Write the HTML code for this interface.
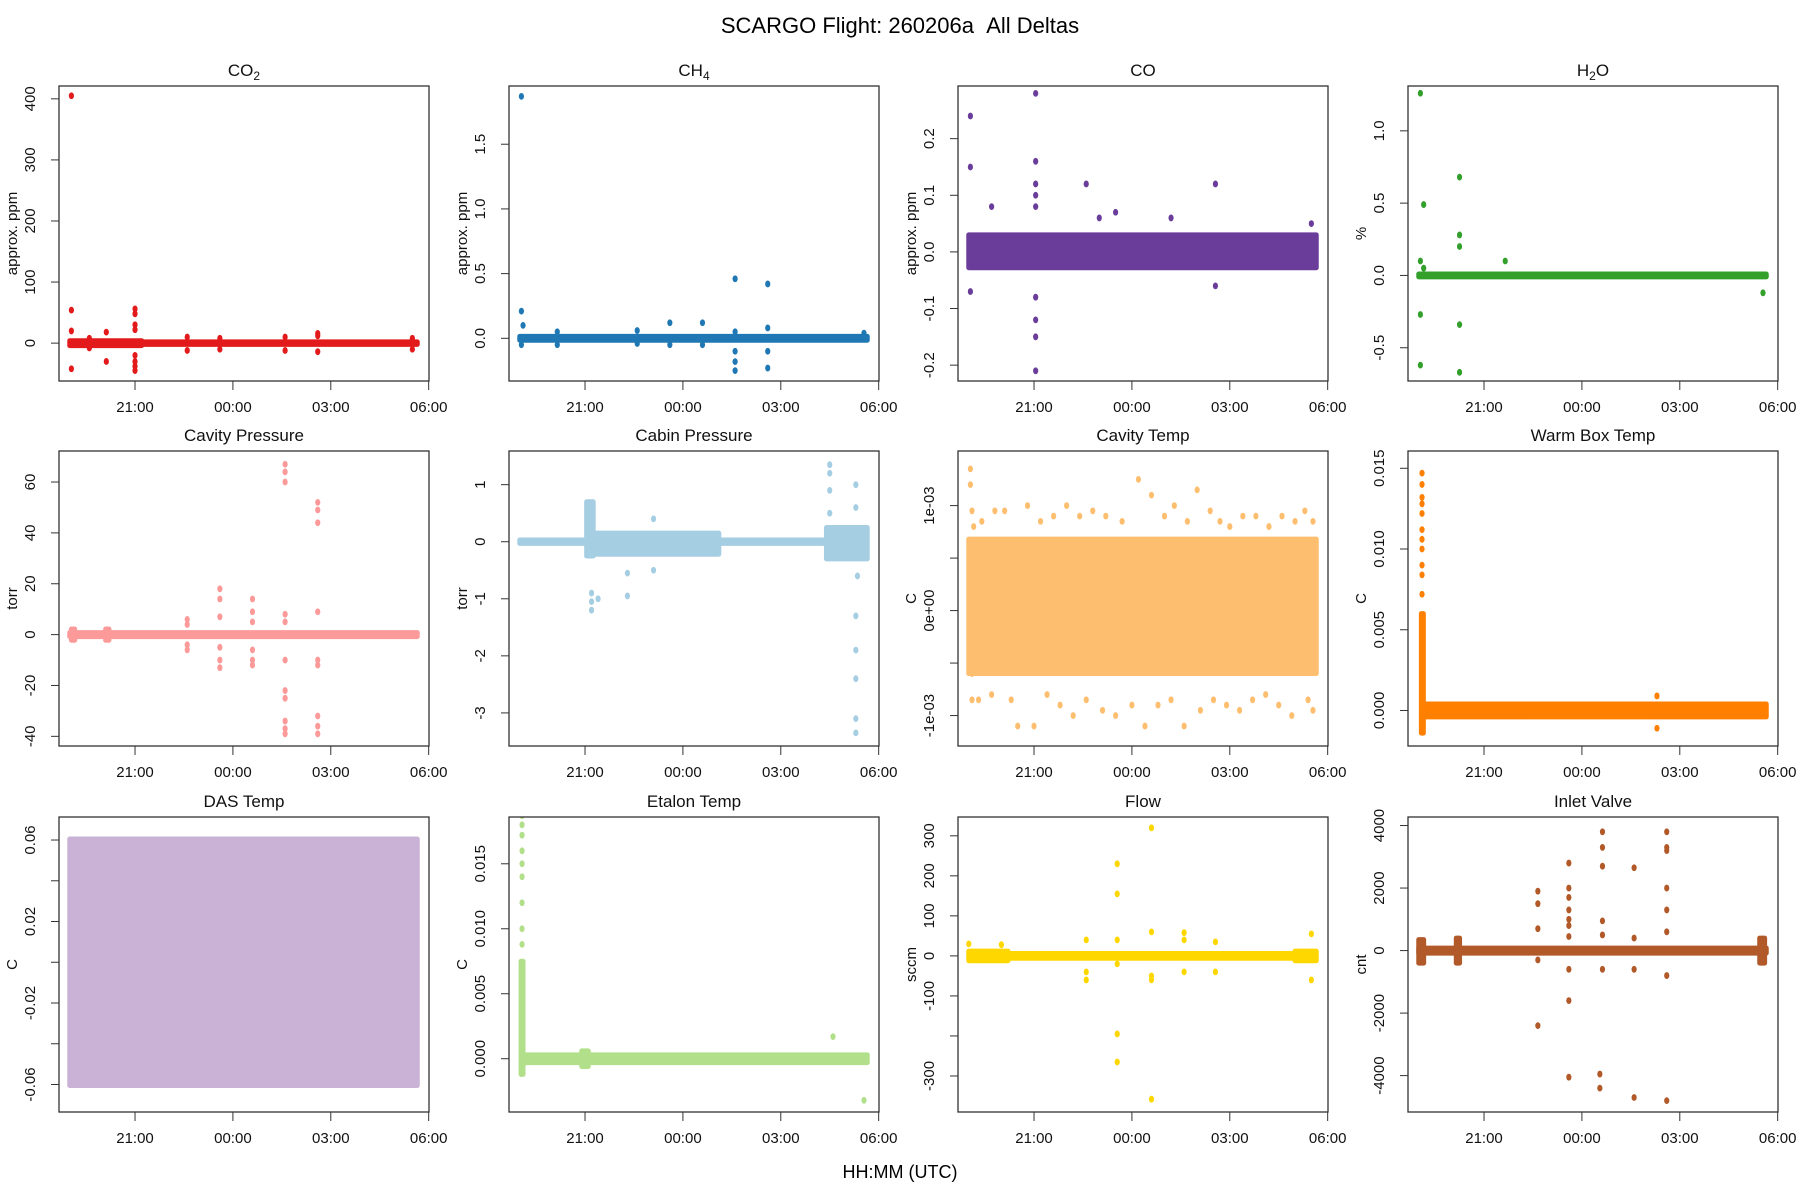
<!DOCTYPE html>
<html><head><meta charset="utf-8"><style>
html,body{margin:0;padding:0;background:#fff}
svg{display:block;font-family:"Liberation Sans",sans-serif}
</style></head><body>
<svg id="fig" width="1800" height="1200" viewBox="0 0 1800 1200" xmlns="http://www.w3.org/2000/svg">
<text x="900" y="33" text-anchor="middle" font-size="22" style="white-space:pre">SCARGO Flight: 260206a&#160;&#160;All Deltas</text>
<text x="900" y="1178" text-anchor="middle" font-size="18">HH:MM (UTC)</text>
</svg>
<script>
// shared x axis (hours relative to 00:00 UTC)
const xTickVals=[-3,0,3,6];
const xTickLabels=["21:00","00:00","03:00","06:00"];
const xDomain=[-5.33,6.01];

// CO2
const co2_bandT0=[-5.0,-2.8];const co2_bandT1=[-2.8,5.65];const co2_bandLo=[-4,-2];const co2_bandHi=[4,2];
const co2_ptT=[-4.95,-4.95,-4.95,-4.95,-4.4,-4.4,-3.88,-3.88,-3.0,-3.0,-3.0,-3.0,-3.0,-3.0,-3.0,-3.0,-1.4,-1.4,-0.4,-0.4,1.6,1.6,2.6,2.6,2.6,5.5,5.5];
const co2_ptV=[405,54,-42,20,8,-8,18,-30,56,48,30,22,-20,-30,-38,-45,10,-12,8,-10,10,-12,16,12,-14,8,-10];
// CH4
const ch4_bandT0=[-5.0];const ch4_bandT1=[5.65];const ch4_bandLo=[-0.015];const ch4_bandHi=[0.015];
const ch4_ptT=[-4.95,-4.95,-4.95,-4.9,-3.85,-3.85,-1.4,-1.4,-0.4,-0.4,0.6,0.6,1.6,1.6,1.6,1.6,1.6,2.6,2.6,2.6,2.6,5.55];
const ch4_ptV=[1.87,0.21,-0.05,0.1,0.05,-0.05,0.06,-0.04,0.12,-0.05,0.12,-0.05,0.46,0.05,-0.1,-0.18,-0.25,0.42,0.08,-0.1,-0.23,0.04];
// CO
const co_bandT0=[-5.0];const co_bandT1=[5.65];const co_bandLo=[-0.028];const co_bandHi=[0.03];
const co_ptT=[-4.95,-4.95,-4.95,-4.3,-2.95,-2.95,-2.95,-2.95,-2.95,-2.95,-2.95,-2.95,-2.95,-1.4,-1.0,-0.5,1.2,2.56,2.56,5.5];
const co_ptV=[0.24,0.15,-0.07,0.08,0.28,0.16,0.12,0.1,0.08,-0.08,-0.12,-0.15,-0.21,0.12,0.06,0.07,0.06,0.12,-0.06,0.05];
// H2O
const h2o_bandT0=[-5.0];const h2o_bandT1=[5.65];const h2o_bandLo=[-0.01];const h2o_bandHi=[0.01];
const h2o_ptT=[-4.95,-4.95,-4.95,-4.95,-4.85,-4.85,-3.75,-3.75,-3.75,-3.75,-3.75,-2.35,5.55];
const h2o_ptV=[1.26,0.1,-0.27,-0.62,0.49,0.05,0.68,0.28,0.2,-0.34,-0.67,0.1,-0.12];
// Cavity Pressure
const cavp_bandT0=[-5.0,-4.95,-3.9];const cavp_bandT1=[5.65,-4.85,-3.8];const cavp_bandLo=[-0.8,-2.2,-2.2];const cavp_bandHi=[0.8,2.2,2.2];
const cavp_ptT=[-1.4,-1.4,-1.4,-1.4,-0.4,-0.4,-0.4,-0.4,-0.4,-0.4,0.6,0.6,0.6,0.6,0.6,0.6,1.6,1.6,1.6,1.6,1.6,1.6,1.6,1.6,1.6,1.6,1.6,2.6,2.6,2.6,2.6,2.6,2.6,2.6,2.6,2.6];
const cavp_ptV=[6,4,-4,-6,18,14,7,-5,-10,-13,14,9,5,-6,-10,-12,67,64,60,8,5,-10,-22,-25,-34,-37,-39,52,49,44,9,-10,-12,-32,-36,-39];
// Cabin Pressure
const cabp_bandT0=[-5.0,-2.95,-2.75,1.1,4.4];const cabp_bandT1=[-2.95,-2.75,1.1,4.4,5.65];
const cabp_bandLo=[-0.03,-0.25,-0.22,-0.03,-0.3];const cabp_bandHi=[0.03,0.7,0.15,0.03,0.25];
const cabp_ptT=[-2.8,-2.8,-2.8,-2.6,-1.7,-1.7,-0.9,-0.9,4.5,4.5,4.5,4.5,5.3,5.3,5.3,5.3,5.3,5.3,5.3,5.35];
const cabp_ptV=[-0.9,-1.05,-1.2,-1.0,-0.95,-0.55,0.4,-0.5,1.35,1.2,0.9,0.5,1.0,0.6,-1.3,-1.9,-2.4,-3.1,-3.35,-0.6];
// Cavity Temp
const cavt_bandT0=[-5.0];const cavt_bandT1=[5.65];const cavt_bandLo=[-0.6e-3];const cavt_bandHi=[0.68e-3];
const cavt_ptT=[-4.95,-4.95,-4.9,-4.85,-4.9,-4.9,-4.6,-4.2,-3.9,-3.5,-3.2,-2.8,-2.4,-2.0,-1.6,-1.2,-0.8,-0.3,0.2,0.6,1.0,1.3,1.7,2.0,2.4,2.7,3.0,3.4,3.8,4.2,4.6,5.0,5.3,5.55,-4.7,-4.3,-3.7,-3.0,-2.6,-2.2,-1.8,-1.4,-0.9,-0.5,0.0,0.4,0.8,1.2,1.6,2.1,2.5,2.9,3.3,3.7,4.1,4.5,4.9,5.4,5.55];
const cavt_ptV=[1.35e-3,1.2e-3,0.95e-3,0.8e-3,-0.85e-3,-0.6e-3,0.85e-3,0.95e-3,0.95e-3,-1.1e-3,1.0e-3,0.85e-3,0.9e-3,1.0e-3,0.9e-3,0.95e-3,0.9e-3,0.85e-3,1.25e-3,1.1e-3,0.9e-3,1.0e-3,0.85e-3,1.15e-3,0.95e-3,0.85e-3,0.8e-3,0.9e-3,0.9e-3,0.8e-3,0.9e-3,0.85e-3,0.95e-3,0.85e-3,-0.85e-3,-0.8e-3,-0.85e-3,-1.1e-3,-0.8e-3,-0.9e-3,-1.0e-3,-0.85e-3,-0.95e-3,-1.0e-3,-0.9e-3,-1.1e-3,-0.9e-3,-0.85e-3,-1.1e-3,-0.95e-3,-0.85e-3,-0.9e-3,-0.95e-3,-0.85e-3,-0.8e-3,-0.9e-3,-1.0e-3,-0.85e-3,-0.95e-3];
// Warm Box Temp
const wbt_bandT0=[-4.92,-4.85];const wbt_bandT1=[-4.86,5.65];const wbt_bandLo=[-0.0014,-0.0004];const wbt_bandHi=[0.006,0.0004];
const wbt_ptT=[-4.9,-4.9,-4.9,-4.9,-4.9,-4.9,-4.9,-4.9,-4.9,-4.9,-4.9,2.3,2.3];
const wbt_ptV=[0.0147,0.0140,0.0132,0.0128,0.0122,0.0112,0.0106,0.0100,0.0090,0.0084,0.0072,0.0009,-0.0011];
// DAS Temp
const das_bandT0=[-5.0];const das_bandT1=[5.65];const das_bandLo=[-0.0605];const das_bandHi=[0.0605];
const das_ptT=[];const das_ptV=[];
// Etalon Temp
const etl_bandT0=[-4.96,-4.9,-3.1];const etl_bandT1=[-4.9,5.65,-2.9];const etl_bandLo=[-0.0012,-0.0003,-0.0006];const etl_bandHi=[0.0075,0.0003,0.0006];
const etl_ptT=[-4.93,-4.93,-4.93,-4.93,-4.93,-4.93,-4.93,-4.93,-4.93,4.6,5.55];
const etl_ptV=[0.0187,0.0180,0.0172,0.0160,0.0150,0.0140,0.0120,0.0100,0.0088,0.0017,-0.0032];
// Flow
const flow_bandT0=[-5.0,-3.8,5.0];const flow_bandT1=[-3.8,5.0,5.65];const flow_bandLo=[-12,-6,-12];const flow_bandHi=[12,6,12];
const flow_ptT=[-5.0,-4.0,-1.4,-1.4,-1.4,-0.45,-0.45,-0.45,-0.45,-0.45,-0.45,0.6,0.6,0.6,0.6,0.6,1.6,1.6,1.6,2.56,2.56,5.5,5.5];
const flow_ptV=[30,28,40,-40,-60,230,155,40,-20,-195,-265,320,60,-50,-60,-358,58,40,-40,35,-40,55,-60];
// Inlet Valve
const inl_bandT0=[-5.0,-3.85,-5.0,5.45];const inl_bandT1=[-4.85,-3.75,5.65,5.6];const inl_bandLo=[-400,-400,-80,-400];const inl_bandHi=[350,400,80,400];
const inl_ptT=[-1.35,-1.35,-1.35,-1.35,-1.35,-0.4,-0.4,-0.4,-0.4,-0.4,-0.4,-0.4,-0.4,-0.4,-0.4,0.63,0.63,0.63,0.63,0.63,0.63,0.55,0.55,1.6,1.6,1.6,1.6,2.6,2.6,2.6,2.6,2.6,2.6,2.6,2.6];
const inl_ptV=[1900,1500,700,-300,-2400,2800,2000,1700,1300,1000,450,-600,-1600,-4050,800,3800,3300,2700,950,500,-600,-3950,-4400,2650,400,-600,-4700,3800,3300,3200,2000,1300,600,-800,-4800];

const panels=[
 {name:"co2",title:["CO","2"],ylab:"approx. ppm",col:"#e31a1c",dom:[-62,421],ticks:[0,100,200,300,400],labs:["0","100","200","300","400"],bT0:co2_bandT0,bT1:co2_bandT1,bLo:co2_bandLo,bHi:co2_bandHi,pT:co2_ptT,pV:co2_ptV},
 {name:"ch4",title:["CH","4"],ylab:"approx. ppm",col:"#1f78b4",dom:[-0.33,1.95],ticks:[0,0.5,1,1.5],labs:["0.0","0.5","1.0","1.5"],bT0:ch4_bandT0,bT1:ch4_bandT1,bLo:ch4_bandLo,bHi:ch4_bandHi,pT:ch4_ptT,pV:ch4_ptV},
 {name:"co",title:["CO",""],ylab:"approx. ppm",col:"#6a3d9a",dom:[-0.228,0.293],ticks:[-0.2,-0.1,0,0.1,0.2],labs:["-0.2","-0.1","0.0","0.1","0.2"],bT0:co_bandT0,bT1:co_bandT1,bLo:co_bandLo,bHi:co_bandHi,pT:co_ptT,pV:co_ptV},
 {name:"h2o",title:["H","2","O"],ylab:"%",col:"#33a02c",dom:[-0.73,1.31],ticks:[-0.5,0,0.5,1],labs:["-0.5","0.0","0.5","1.0"],bT0:h2o_bandT0,bT1:h2o_bandT1,bLo:h2o_bandLo,bHi:h2o_bandHi,pT:h2o_ptT,pV:h2o_ptV},
 {name:"cavity-pressure",title:["Cavity Pressure",""],ylab:"torr",col:"#fb9a99",dom:[-43.8,72.2],ticks:[-40,-20,0,20,40,60],labs:["-40","-20","0","20","40","60"],bT0:cavp_bandT0,bT1:cavp_bandT1,bLo:cavp_bandLo,bHi:cavp_bandHi,pT:cavp_ptT,pV:cavp_ptV},
 {name:"cabin-pressure",title:["Cabin Pressure",""],ylab:"torr",col:"#a6cee3",dom:[-3.58,1.59],ticks:[-3,-2,-1,0,1],labs:["-3","-2","-1","0","1"],bT0:cabp_bandT0,bT1:cabp_bandT1,bLo:cabp_bandLo,bHi:cabp_bandHi,pT:cabp_ptT,pV:cabp_ptV},
 {name:"cavity-temp",title:["Cavity Temp",""],ylab:"C",col:"#fdbf6f",dom:[-1.29e-3,1.52e-3],ticks:[-1e-3,-5e-4,0,5e-4,1e-3],labs:["-1e-03","","0e+00","","1e-03"],bT0:cavt_bandT0,bT1:cavt_bandT1,bLo:cavt_bandLo,bHi:cavt_bandHi,pT:cavt_ptT,pV:cavt_ptV},
 {name:"warm-box-temp",title:["Warm Box Temp",""],ylab:"C",col:"#ff7f00",dom:[-0.0022,0.01607],ticks:[0,0.005,0.01,0.015],labs:["0.000","0.005","0.010","0.015"],bT0:wbt_bandT0,bT1:wbt_bandT1,bLo:wbt_bandLo,bHi:wbt_bandHi,pT:wbt_ptT,pV:wbt_ptV},
 {name:"das-temp",title:["DAS Temp",""],ylab:"C",col:"#cab2d6",dom:[-0.0735,0.0713],ticks:[-0.06,-0.04,-0.02,0,0.02,0.04,0.06],labs:["-0.06","","-0.02","","0.02","","0.06"],bT0:das_bandT0,bT1:das_bandT1,bLo:das_bandLo,bHi:das_bandHi,pT:das_ptT,pV:das_ptV},
 {name:"etalon-temp",title:["Etalon Temp",""],ylab:"C",col:"#b2df8a",dom:[-0.0041,0.0186],ticks:[0,0.005,0.01,0.015],labs:["0.000","0.005","0.010","0.015"],bT0:etl_bandT0,bT1:etl_bandT1,bLo:etl_bandLo,bHi:etl_bandHi,pT:etl_ptT,pV:etl_ptV},
 {name:"flow",title:["Flow",""],ylab:"sccm",col:"#ffd700",dom:[-390,347],ticks:[-300,-200,-100,0,100,200,300],labs:["-300","","-100","0","100","200","300"],bT0:flow_bandT0,bT1:flow_bandT1,bLo:flow_bandLo,bHi:flow_bandHi,pT:flow_ptT,pV:flow_ptV},
 {name:"inlet-valve",title:["Inlet Valve",""],ylab:"cnt",col:"#b15928",dom:[-5164,4273],ticks:[-4000,-2000,0,2000,4000],labs:["-4000","-2000","0","2000","4000"],bT0:inl_bandT0,bT1:inl_bandT1,bLo:inl_bandLo,bHi:inl_bandHi,pT:inl_ptT,pV:inl_ptV}
];
const NS="http://www.w3.org/2000/svg";
const svg=document.getElementById("fig");
const colL=[59,509,958,1408],rowT=[86,451,817],W=370,H=295;
function mk(tag,attrs,parent){const e=document.createElementNS(NS,tag);for(const k in attrs)e.setAttribute(k,attrs[k]);parent.appendChild(e);return e;}
panels.forEach((p,i)=>{
 const L=colL[i%4],T=rowT[Math.floor(i/4)];
 const g=mk("g",{},svg);
 
 
 const xs=h=>L+(h-xDomain[0])/(xDomain[1]-xDomain[0])*W;
 const ys=v=>T+H-(v-p.dom[0])/(p.dom[1]-p.dom[0])*H;
 const clipId="clip"+i;
 const cp=mk("clipPath",{id:clipId},g);mk("rect",{x:L,y:T,width:W,height:H},cp);
 const data=mk("g",{"clip-path":"url(#"+clipId+")"},g);
 
 
 for(let k=0;k<p.bT0.length;k++){
  const x0=xs(p.bT0[k]),x1=xs(p.bT1[k]),y0=ys(p.bHi[k]),y1=ys(p.bLo[k]);
  const r=mk("rect",{x:x0-2.5,y:y0-2.5,width:x1-x0+5,height:y1-y0+5,rx:2.5,fill:p.col},data);
  
  
 }
 for(let k=0;k<p.pT.length;k++){
  const c=mk("ellipse",{cx:xs(p.pT[k]),cy:ys(p.pV[k]),rx:2.6,ry:3.4,fill:p.col},data);
  
  
 }
 const box=mk("rect",{x:L,y:T,width:W,height:H,fill:"none",stroke:"#333","stroke-width":1.3},g);
 
 
 const ya=mk("g",{},g);
 
 
 mk("line",{x1:L,x2:L,y1:ys(p.ticks[0]),y2:ys(p.ticks[p.ticks.length-1]),stroke:"#333"},ya);
 p.ticks.forEach((t,j)=>{
  const y=ys(t);
  mk("line",{x1:L-8,x2:L,y1:y,y2:y,stroke:"#333"},ya);
  if(p.labs[j]){
   const tx=mk("text",{x:0,y:0,transform:`translate(${L-24},${y}) rotate(-90)`,"text-anchor":"middle","font-size":15,fill:"#111"},ya);
   tx.textContent=p.labs[j];
   
   
  }
 });
 const yl=mk("text",{transform:`translate(${L-42},${T+H/2}) rotate(-90)`,"text-anchor":"middle","font-size":15,fill:"#111"},g);
 yl.textContent=p.ylab;
 
 
 const xa=mk("g",{},g);
 
 
 xTickVals.forEach((t,j)=>{
  const x=xs(t);
  mk("line",{x1:x,x2:x,y1:T+H,y2:T+H+9,stroke:"#333"},xa);
  const tx=mk("text",{x:x,y:T+H+31,"text-anchor":"middle","font-size":15,fill:"#111"},xa);
  tx.textContent=xTickLabels[j];
  
  
 });
 const tt=mk("text",{x:L+W/2,y:T-10,"text-anchor":"middle","font-size":17,fill:"#111"},g);
 
 
 const a=mk("tspan",{},tt);a.textContent=p.title[0];
 if(p.title[1]){const s=mk("tspan",{"font-size":12,dy:4},tt);s.textContent=p.title[1];}
 if(p.title[2]){const s=mk("tspan",{dy:-4},tt);s.textContent=p.title[2];}
});
</script>
</body></html>
